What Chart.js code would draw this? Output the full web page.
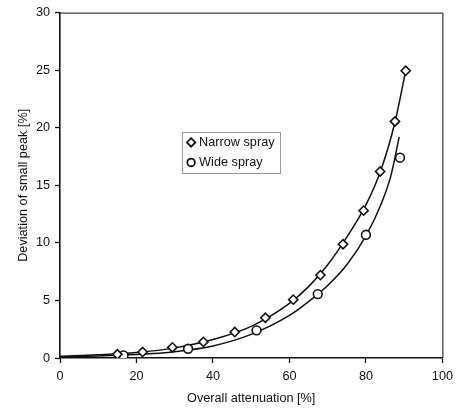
<!DOCTYPE html>
<html><head><meta charset="utf-8">
<script src="https://cdn.jsdelivr.net/npm/chart.js@4/dist/chart.umd.min.js"></script>
<style>html,body{margin:0;padding:0;background:#fff;}</style>
</head><body>
<canvas id="c" width="459" height="408"></canvas>
<script>
// Measured points
const narrowX = [15.0, 21.6, 29.4, 37.5, 45.7, 53.7, 61.0, 68.1, 74.0, 79.4, 83.7, 87.6, 90.4];
const narrowY = [0.32, 0.52, 0.92, 1.40, 2.25, 3.50, 5.07, 7.20, 9.88, 12.8, 16.2, 20.55, 24.95];
const wideX = [16.6, 33.5, 51.4, 67.4, 80.0, 88.9];
const wideY = [0.22, 0.80, 2.40, 5.55, 10.7, 17.4];
// Fitted curves
const narrowCurveX = [0, 10, 20, 30, 40, 50, 60, 65, 70, 75, 80, 84, 87.6, 90.4];
const narrowCurveY = [0.15, 0.28, 0.48, 0.88, 1.6, 2.75, 4.75, 6.2, 8.1, 10.5, 13.3, 16.4, 20.5, 24.95];
const wideCurveX = [0, 10, 20, 30, 40, 50, 60, 65, 70, 75, 80, 84, 86.5, 88.7];
const wideCurveY = [0.1, 0.17, 0.3, 0.55, 1.05, 2.05, 3.7, 4.9, 6.3, 8.1, 10.6, 13.4, 15.8, 19.2];
const xTicks = [0, 20, 40, 60, 80, 100];
const yTicks = [0, 5, 10, 15, 20, 25, 30];
const seriesNames = ['Narrow spray', 'Wide spray'];
const xTitle = 'Overall attenuation [%]';
const yTitle = 'Deviation of small peak [%]';

const pts = (xs, ys) => xs.map((x, i) => ({x, y: ys[i]}));
const FONT = '"Liberation Sans", Arial, sans-serif';
const INK = '#111';

const framePlugin = {
  id: 'frame',
  afterDatasetsDraw(chart) {
    const {ctx, chartArea: a} = chart;
    ctx.save();
    ctx.strokeStyle = INK;
    ctx.lineWidth = 1;
    ctx.beginPath();
    ctx.moveTo(a.left, a.top + 0.5);
    ctx.lineTo(a.right + 0.5, a.top + 0.5);
    ctx.lineTo(a.right + 0.5, a.bottom);
    ctx.stroke();
    ctx.restore();
  }
};

const legendPlugin = {
  id: 'boxLegend',
  afterDraw(chart) {
    const {ctx} = chart;
    const xs = chart.scales.x, ys = chart.scales.y;
    // anchor legend in data coordinates
    const left = xs.getPixelForValue(31.8), right = xs.getPixelForValue(57.3);
    const top = ys.getPixelForValue(19.65), bottom = ys.getPixelForValue(16.1);
    ctx.save();
    ctx.strokeStyle = '#9a9a9a';
    ctx.lineWidth = 1;
    ctx.strokeRect(Math.round(left) + 0.5, Math.round(top) + 0.5, Math.round(right - left), Math.round(bottom - top));
    const rows = [top + (bottom - top) * 0.26, top + (bottom - top) * 0.75];
    const mx = left + 9.5;
    ctx.font = '12.7px ' + FONT;
    ctx.textBaseline = 'middle';
    ctx.fillStyle = INK;
    rows.forEach((ry, i) => {
      ctx.lineWidth = 1.8;
      ctx.strokeStyle = INK;
      ctx.fillStyle = '#fff';
      ctx.beginPath();
      if (i === 0) {
        const r = 4.2;
        ctx.moveTo(mx, ry - r); ctx.lineTo(mx + r, ry); ctx.lineTo(mx, ry + r); ctx.lineTo(mx - r, ry); ctx.closePath();
      } else {
        ctx.arc(mx, ry, 3.8, 0, Math.PI * 2);
      }
      ctx.fill(); ctx.stroke();
      ctx.fillStyle = INK;
      ctx.fillText(seriesNames[i], left + 17.5, ry + 0.5);
    });
    ctx.restore();
  }
};

new Chart(document.getElementById('c'), {
  type: 'scatter',
  data: {
    datasets: [
      { label: seriesNames[0], data: pts(narrowX, narrowY), pointStyle: 'rectRot', pointRadius: 4.6,
        backgroundColor: '#fff', borderColor: INK, borderWidth: 1.6, pointHoverRadius: 4.6 },
      { label: seriesNames[1], data: pts(wideX, wideY), pointStyle: 'circle', pointRadius: 4.4,
        backgroundColor: '#fff', borderColor: INK, borderWidth: 1.6, pointHoverRadius: 4.4 },
      { label: 'fit1', data: pts(narrowCurveX, narrowCurveY), showLine: true, pointRadius: 0,
        borderColor: INK, borderWidth: 1.5, cubicInterpolationMode: 'monotone', fill: false },
      { label: 'fit2', data: pts(wideCurveX, wideCurveY), showLine: true, pointRadius: 0,
        borderColor: INK, borderWidth: 1.5, cubicInterpolationMode: 'monotone', fill: false }
    ]
  },
  options: {
    responsive: false,
    animation: false,
    devicePixelRatio: 1,
    layout: { padding: { top: 12, right: 16, left: 0, bottom: 0 } },
    plugins: { legend: { display: false }, tooltip: { enabled: false } },
    scales: {
      x: {
        type: 'linear', min: 0, max: 100,
        afterBuildTicks: s => { s.ticks = xTicks.map(v => ({value: v})); },
        afterFit: s => { s.height = 50; },
        grid: { drawOnChartArea: false, tickLength: 5, color: INK, tickWidth: 1.3 },
        border: { color: INK, width: 1.6 },
        ticks: { color: INK, font: { family: FONT, size: 12.7 }, padding: 6, maxRotation: 0 },
        title: { display: true, text: xTitle, color: INK, font: { family: FONT, size: 12.7 }, padding: { top: 0, bottom: 1.5 } }
      },
      y: {
        type: 'linear', min: 0, max: 30,
        afterBuildTicks: s => { s.ticks = yTicks.map(v => ({value: v})); },
        afterFit: s => { s.width = 60; },
        grid: { drawOnChartArea: false, tickLength: 5, color: INK, tickWidth: 1.3 },
        border: { color: INK, width: 1.6 },
        ticks: { color: INK, font: { family: FONT, size: 12.7 }, padding: 5 },
        title: { display: true, text: yTitle, color: INK, font: { family: FONT, size: 12.7 }, padding: { top: 15.5, bottom: 0 } }
      }
    }
  },
  plugins: [framePlugin, legendPlugin]
});
</script>
</body></html>
